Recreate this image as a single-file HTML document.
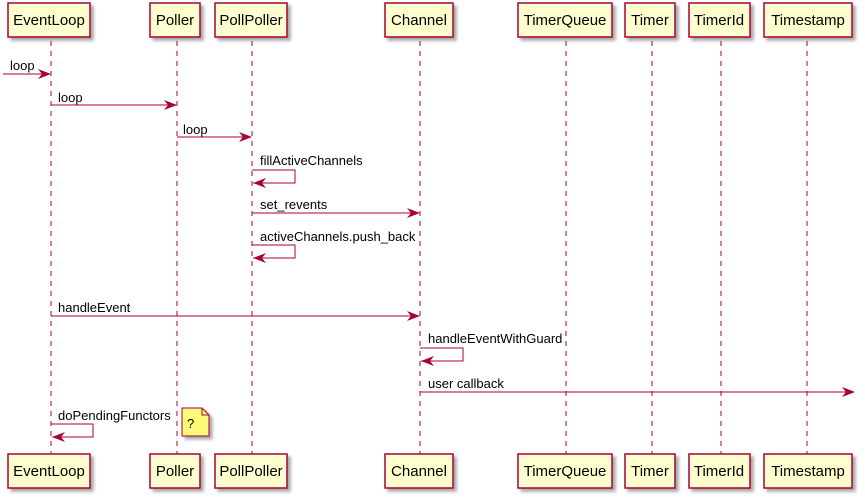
<!DOCTYPE html>
<html><head><style>body{margin:0;background:#fff}svg{display:block}</style></head><body>
<svg width="865" height="498" xmlns="http://www.w3.org/2000/svg" font-family="Liberation Sans, sans-serif" font-size="13">
<defs>
<filter id="sh" x="-20%" y="-20%" width="150%" height="160%"><feGaussianBlur in="SourceAlpha" stdDeviation="1.5"/><feOffset dx="3" dy="3"/><feComponentTransfer><feFuncA type="linear" slope="0.35"/></feComponentTransfer><feMerge><feMergeNode/><feMergeNode in="SourceGraphic"/></feMerge></filter>
</defs>
<g stroke="#A80036" stroke-width="1" stroke-dasharray="5,5">
<line x1="51" y1="41" x2="51" y2="454"/>
<line x1="177" y1="41" x2="177" y2="454"/>
<line x1="252" y1="41" x2="252" y2="454"/>
<line x1="420" y1="41" x2="420" y2="454"/>
<line x1="566" y1="41" x2="566" y2="454"/>
<line x1="652" y1="41" x2="652" y2="454"/>
<line x1="721" y1="41" x2="721" y2="454"/>
<line x1="807" y1="41" x2="807" y2="454"/>
</g>
<g fill="#FEFECE" stroke="#A80036" stroke-width="1.5" filter="url(#sh)">
<rect x="8" y="3" width="82" height="34"/><rect x="150" y="3" width="50" height="34"/><rect x="215" y="3" width="72" height="34"/><rect x="385" y="3" width="68" height="34"/><rect x="518" y="3" width="94" height="34"/><rect x="625" y="3" width="50" height="34"/><rect x="689" y="3" width="61" height="34"/><rect x="764" y="3" width="88" height="34"/>
<rect x="8" y="454" width="82" height="34"/><rect x="150" y="454" width="50" height="34"/><rect x="215" y="454" width="72" height="34"/><rect x="385" y="454" width="68" height="34"/><rect x="518" y="454" width="94" height="34"/><rect x="625" y="454" width="50" height="34"/><rect x="689" y="454" width="61" height="34"/><rect x="764" y="454" width="88" height="34"/>
</g>
<g font-size="15" text-anchor="middle" fill="#000">
<text x="49" y="25">EventLoop</text><text x="175" y="25">Poller</text><text x="251" y="25">PollPoller</text><text x="419" y="25">Channel</text><text x="565" y="25">TimerQueue</text><text x="650" y="25">Timer</text><text x="719" y="25">TimerId</text><text x="808" y="25">Timestamp</text>
<text x="49" y="476">EventLoop</text><text x="175" y="476">Poller</text><text x="251" y="476">PollPoller</text><text x="419" y="476">Channel</text><text x="565" y="476">TimerQueue</text><text x="650" y="476">Timer</text><text x="719" y="476">TimerId</text><text x="808" y="476">Timestamp</text>
</g>
<g stroke="#A80036" fill="none" stroke-width="1">
<line x1="3" y1="74" x2="50" y2="74"/>
<line x1="51" y1="105" x2="176" y2="105"/>
<line x1="177" y1="137" x2="251" y2="137"/>
<polyline points="252,170 295,170 295,183 253,183"/>
<line x1="252" y1="213" x2="419" y2="213"/>
<polyline points="252,245 295,245 295,258 253,258"/>
<line x1="51" y1="316" x2="419" y2="316"/>
<polyline points="420,348 463,348 463,361 421,361"/>
<line x1="420" y1="392" x2="853" y2="392"/>
<polyline points="51,424 93,424 93,437 52,437"/>
</g>
<g fill="#A80036">
<polygon points="51,74 38,69 42,74 38,79"/>
<polygon points="177,105 164,100 168,105 164,110"/>
<polygon points="252,137 239,132 243,137 239,142"/>
<polygon points="253,183 266,178 262,183 266,188"/>
<polygon points="420,213 407,208 411,213 407,218"/>
<polygon points="253,258 266,253 262,258 266,263"/>
<polygon points="420,316 407,311 411,316 407,321"/>
<polygon points="421,361 434,356 430,361 434,366"/>
<polygon points="855,392 842,387 846,392 842,397"/>
<polygon points="52,437 65,432 61,437 65,442"/>
</g>
<g font-size="13" fill="#000">
<text x="10" y="70">loop</text>
<text x="58" y="102">loop</text>
<text x="183" y="134">loop</text>
<text x="260" y="165">fillActiveChannels</text>
<text x="260" y="209">set_revents</text>
<text x="260" y="241">activeChannels.push_back</text>
<text x="58" y="312">handleEvent</text>
<text x="428" y="343">handleEventWithGuard</text>
<text x="428" y="388">user callback</text>
<text x="58" y="420">doPendingFunctors</text>
</g>
<g filter="url(#sh)">
<polygon points="182,408 202,408 209,415 209,436 182,436" fill="#FBFB77" stroke="#A80036" stroke-width="1"/>
<polyline points="202,408 202,415 209,415" fill="none" stroke="#A80036" stroke-width="1"/>
</g>
<text x="187" y="428" font-size="13">?</text>
</svg>
</body></html>
